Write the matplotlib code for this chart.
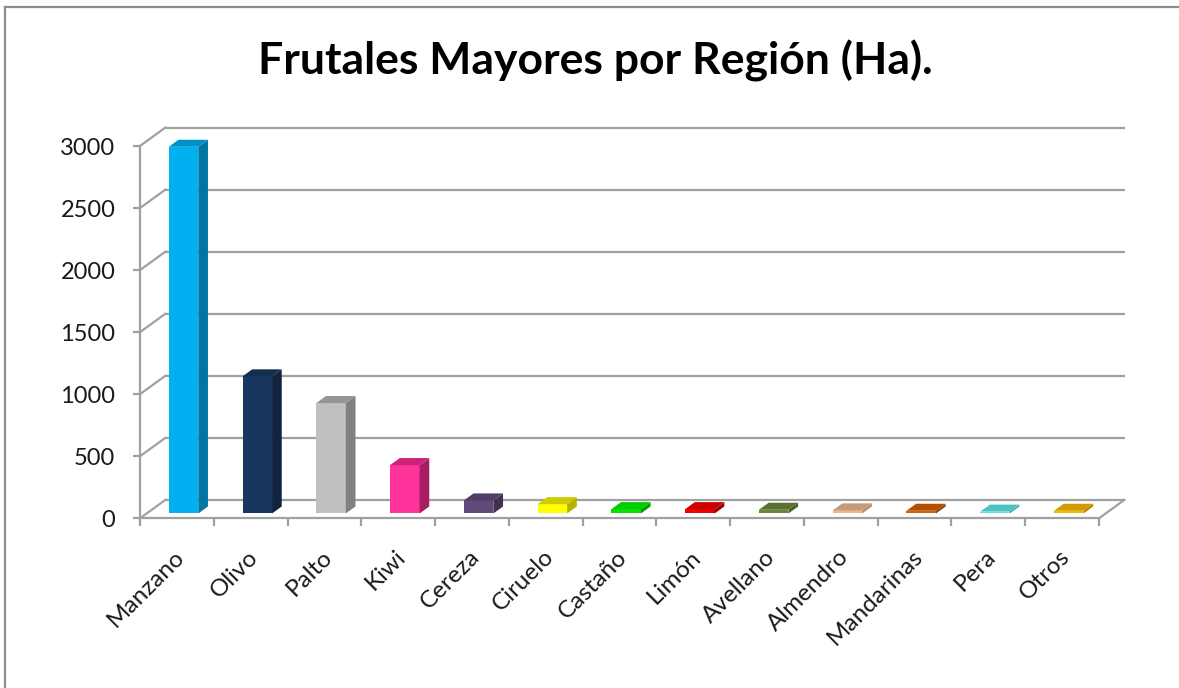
import matplotlib
matplotlib.use("Agg")
import matplotlib.pyplot as plt
from matplotlib.patches import Polygon
from matplotlib.lines import Line2D

# ---------------- data ----------------
categories = ["Manzano", "Olivo", "Palto", "Kiwi", "Cereza", "Ciruelo", "Castaño",
              "Limón", "Avellano", "Almendro", "Mandarinas", "Pera", "Otros"]
values = [2955, 1105, 890, 390, 105, 75, 35, 35, 30, 25, 22, 15, 22]
y_ticks = [0, 500, 1000, 1500, 2000, 2500, 3000]
title = "Frutales Mayores por Región (Ha)."

front_colors = ["#00B0F0", "#17375E", "#C0C0C0", "#FF3399", "#604A7B", "#FFFF00", "#00E400",
                "#F00000", "#6A8535", "#F2B58A", "#D2620A", "#5EE6E6", "#F5B800"]
side_colors = ["#0076A3", "#10243F", "#808080", "#A61F64", "#3F3151", "#B3B300", "#00A000",
               "#A00000", "#4A5E24", "#B38A6A", "#8F4205", "#3FA3A3", "#B38600"]
top_colors = ["#0090C8", "#142E50", "#959595", "#CC2277", "#4F3D66", "#CCCC00", "#00CC00",
              "#CC0000", "#5A7030", "#C49A78", "#B05000", "#4CC4C4", "#D09C00"]

# ---------------- figure ----------------
W, H = 1179, 688
fig = plt.figure(figsize=(W / 100, H / 100), dpi=100)
fig.patch.set_facecolor("white")

FONT = ["Lato", "DejaVu Sans"]
plt.rcParams["font.family"] = FONT

# outer chart border (top and left visible)
border_c = "#8C8C8C"
fig.add_artist(Line2D([5 / W, 1.0], [1 - 7 / H, 1 - 7 / H], transform=fig.transFigure,
                      color=border_c, lw=1.6))
fig.add_artist(Line2D([5 / W, 5 / W], [0, 1 - 7 / H], transform=fig.transFigure,
                      color=border_c, lw=1.6))

fig.text(595 / W, 1 - 74 / H, title, ha="center", va="baseline",
         fontsize=32, fontweight="bold", color="black", family=FONT)

# axes occupies the front plane of the 3-D box
x0_px, x1_px = 140, 1099
y0_px, y1_px = 518.3, 146.0
ax = fig.add_axes([x0_px / W, 1 - y0_px / H, (x1_px - x0_px) / W, (y0_px - y1_px) / H])
n = len(categories)
ax.set_xlim(-0.5, n - 0.5)
ax.set_ylim(0, 3000)
ax.set_facecolor("none")

px_per_cat = (x1_px - x0_px) / n
px_per_val = (y0_px - y1_px) / 3000
DX = 25.5 / px_per_cat      # depth offset in data units (x)
DY = 18.5 / px_per_val      # depth offset in data units (y)

grid_c = "#A0A0A0"
glw = 1.6
xl, xr = -0.5, n - 0.5
for v in y_ticks:
    ax.plot([xl + DX, xr + DX], [v + DY, v + DY], color=grid_c, lw=glw,
            clip_on=False, zorder=1, solid_capstyle="butt")
    ax.plot([xl, xl + DX], [v, v + DY], color=grid_c, lw=glw, clip_on=False, zorder=1)
ax.plot([xr, xr + DX], [0, DY], color=grid_c, lw=glw, clip_on=False, zorder=1)

# spines / ticks
for s in ["top", "right"]:
    ax.spines[s].set_visible(False)
for s in ["left", "bottom"]:
    ax.spines[s].set_color(grid_c)
    ax.spines[s].set_linewidth(glw)
    ax.spines[s].set_zorder(1)

ax.set_yticks(y_ticks)
ax.set_yticklabels([str(v) for v in y_ticks])
ax.tick_params(axis="y", length=5.3, width=glw, color=grid_c, pad=12.5,
               labelsize=17, labelcolor="#1A1A1A")

ax.set_xticks([i - 0.5 for i in range(n + 1)])
ax.set_xticklabels([])
ax.set_xticks([i - 0.04 for i in range(n)], minor=True)
ax.set_xticklabels(categories, minor=True)
ax.tick_params(axis="x", which="major", length=5.5, width=glw, color=grid_c)
ax.tick_params(axis="x", which="minor", length=0, pad=20, labelsize=17.5,
               labelcolor="#1A1A1A")
for lab in ax.get_xticklabels(minor=True):
    lab.set_rotation(45)
    lab.set_ha("right")
    lab.set_va("top")
    lab.set_rotation_mode("anchor")

# ---------------- bars (3-D look) ----------------
f0 = 0.26          # depth position of the bar front face
bd = 0.38          # bar depth (fraction of floor depth)
bw = 0.40          # bar width
xs = [i + f0 * DX for i in range(n)]
base = f0 * DY
ax.bar(xs, values, width=bw, bottom=base, color=front_colors, zorder=3, clip_on=False)
for x, v, sc, tc in zip(xs, values, side_colors, top_colors):
    l, r = x - bw / 2, x + bw / 2
    ddx, ddy = bd * DX, bd * DY
    side = Polygon([(r, base), (r + ddx, base + ddy), (r + ddx, base + v + ddy), (r, base + v)],
                   closed=True, facecolor=sc, edgecolor="none", zorder=3, clip_on=False)
    top = Polygon([(l, base + v), (r, base + v), (r + ddx, base + v + ddy), (l + ddx, base + v + ddy)],
                  closed=True, facecolor=tc, edgecolor="none", zorder=3, clip_on=False)
    ax.add_patch(side)
    ax.add_patch(top)

fig.savefig("out.png", dpi=100, facecolor="white")
